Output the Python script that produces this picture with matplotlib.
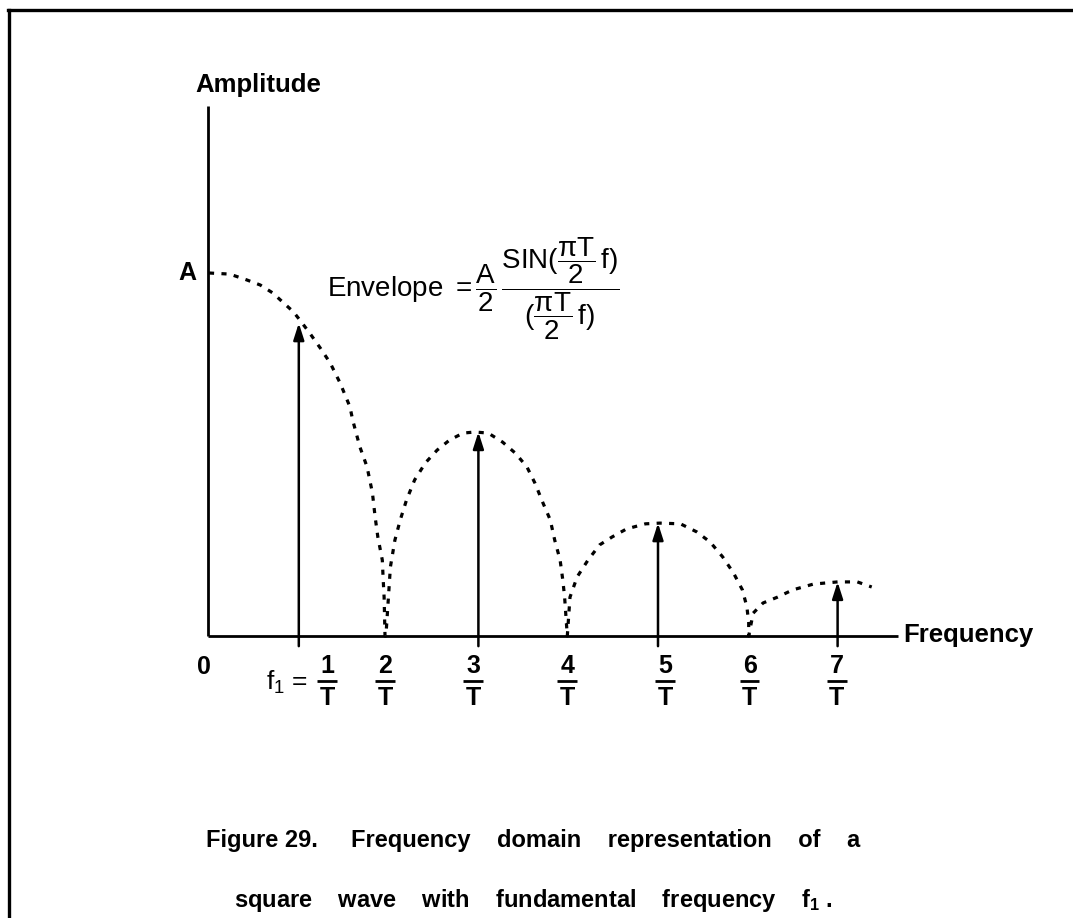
import matplotlib
matplotlib.use('Agg')
import matplotlib.pyplot as plt
from matplotlib import font_manager
from matplotlib.lines import Line2D

plt.rcParams['font.family'] = ['Liberation Sans', 'DejaVu Sans']
plt.rcParams['mathtext.fontset'] = 'custom'
plt.rcParams['mathtext.rm'] = 'Liberation Sans'
plt.rcParams['mathtext.it'] = 'Liberation Sans'
plt.rcParams['mathtext.bf'] = 'Liberation Sans:bold'
plt.rcParams['mathtext.default'] = 'regular'

# ---------------- data (frequency in units of 1/T, amplitude relative to A) -------------
harmonics = [1, 3, 5, 7]
harmonic_amps = [0.862, 0.562, 0.311, 0.149]

env_f = [0.00, 0.23, 0.42, 0.57, 0.71, 0.82, 0.94, 1.01, 1.12, 1.24, 1.35, 1.46, 1.57,
         1.60, 1.68, 1.76, 1.82, 1.85, 1.88, 1.93, 1.94, 1.95, 1.96,
         1.97, 2.02, 2.07, 2.13, 2.20, 2.29, 2.41, 2.54, 2.68, 2.83, 2.96, 3.11, 3.27,
         3.41, 3.54, 3.63, 3.72, 3.80, 3.85, 3.91, 3.94, 3.96, 3.99,
         4.02, 4.10, 4.22, 4.35, 4.49, 4.65, 4.86, 5.02, 5.25, 5.43, 5.58, 5.72, 5.84,
         5.94, 5.99, 6.01, 6.01,
         6.06, 6.17, 6.33, 6.50, 6.73, 7.00, 7.22, 7.38]
env_a = [1.000, 0.997, 0.981, 0.967, 0.945, 0.920, 0.893, 0.871, 0.835, 0.793, 0.752, 0.697, 0.631,
         0.595, 0.521, 0.466, 0.394, 0.328, 0.273, 0.209, 0.154, 0.107, 0.000,
         0.000, 0.190, 0.264, 0.320, 0.375, 0.430, 0.477, 0.512, 0.540, 0.559, 0.562, 0.559, 0.534,
         0.504, 0.466, 0.421, 0.366, 0.320, 0.264, 0.209, 0.154, 0.107, 0.000,
         0.107, 0.163, 0.209, 0.251, 0.273, 0.295, 0.309, 0.311, 0.309, 0.287, 0.259, 0.218, 0.174,
         0.127, 0.080, 0.036, 0.000,
         0.063, 0.091, 0.107, 0.127, 0.143, 0.149, 0.149, 0.135]

tick_numerators = ['1', '2', '3', '4', '5', '6', '7']
tick_denominator = 'T'
label_x = [1.314, 1.96, 2.94, 3.99, 5.08, 6.02, 6.99]   # label centres (layout)

caption_lines = ['Figure 29.     Frequency    domain    representation    of    a',
                 'square    wave    with    fundamental    frequency    f$_1$ .']

# ---------------- figure -------------
W, H = 1073, 918
fig = plt.figure(figsize=(W / 100, H / 100), dpi=100)
ax = fig.add_axes([0, 0, 1, 1])
ax.set_xlim(-209 / 89.8, (W - 209) / 89.8)
ax.set_ylim((636 - H) / 363, 636 / 363)
ax.axis('off')

# page border (top and left)
fig.add_artist(Line2D([8 / W, 1.0], [1 - 10 / H, 1 - 10 / H], color='black', lw=2.4,
                      transform=fig.transFigure))
fig.add_artist(Line2D([9 / W, 9 / W], [0, 1 - 10 / H], color='black', lw=2.4,
                      transform=fig.transFigure))

# axes lines
ax.plot([-0.01, -0.01], [0, 1.46], color='black', lw=2.0, solid_capstyle='butt')
ax.plot([-0.01, 7.67], [0, 0], color='black', lw=2.0, solid_capstyle='butt')

# envelope
ax.plot(env_f, env_a, color='black', lw=2.3, linestyle=(0, (1.6, 2.3)),
        dash_capstyle='butt')

# spectral lines
for f, a in zip(harmonics, harmonic_amps):
    ax.annotate('', xy=(f, a), xytext=(f, -0.028),
                arrowprops=dict(arrowstyle='-|>,head_length=0.5,head_width=0.16',
                                color='black', lw=1.8, shrinkA=0, shrinkB=0,
                                mutation_scale=20))

# axis labels
ax.text(0.546, 1.518, 'Amplitude', ha='center', va='center', fontsize=18.5, fontweight='bold')
ax.text(7.728, 0.003, 'Frequency', ha='left', va='center', fontsize=18.5, fontweight='bold')
ax.text(-0.245, 1.0, 'A', ha='center', va='center', fontsize=18, fontweight='bold')
ax.text(-0.056, -0.085, '0', ha='center', va='center', fontsize=18, fontweight='bold')

# tick labels k/T
for num, lx in zip(tick_numerators, label_x):
    ax.text(lx, -0.083, num, ha='center', va='center', fontsize=18, fontweight='bold')
    ax.text(lx, -0.170, tick_denominator, ha='center', va='center', fontsize=18, fontweight='bold')
    ax.plot([lx - 0.11, lx + 0.11], [-0.124, -0.124], color='black', lw=2.0,
            solid_capstyle='butt')
ax.text(1.10, -0.127, r'$\mathrm{f}_{1}$ =', ha='right', va='center', fontsize=19)

# envelope formula
ax.text(1.314, 0.955,
        r'Envelope $=\dfrac{A}{2}\,\dfrac{\mathrm{SIN}(\dfrac{\pi T}{2}\,\mathrm{f})}{(\dfrac{\pi T}{2}\,\mathrm{f})}$',
        ha='left', va='center', fontsize=20)

# caption
names = {f.name for f in font_manager.fontManager.ttflist}
cap_family = 'Liberation Sans Narrow' if 'Liberation Sans Narrow' in names else 'Liberation Sans'
cap_size = 20 if cap_family == 'Liberation Sans Narrow' else 17
fig.text(0.497, 1 - 840 / H, caption_lines[0], ha='center', va='center',
         fontsize=cap_size, fontweight='bold', family=cap_family)
fig.text(0.497, 1 - 900 / H, caption_lines[1], ha='center', va='center',
         fontsize=cap_size, fontweight='bold', family=cap_family)

fig.savefig('out.png', dpi=100)
